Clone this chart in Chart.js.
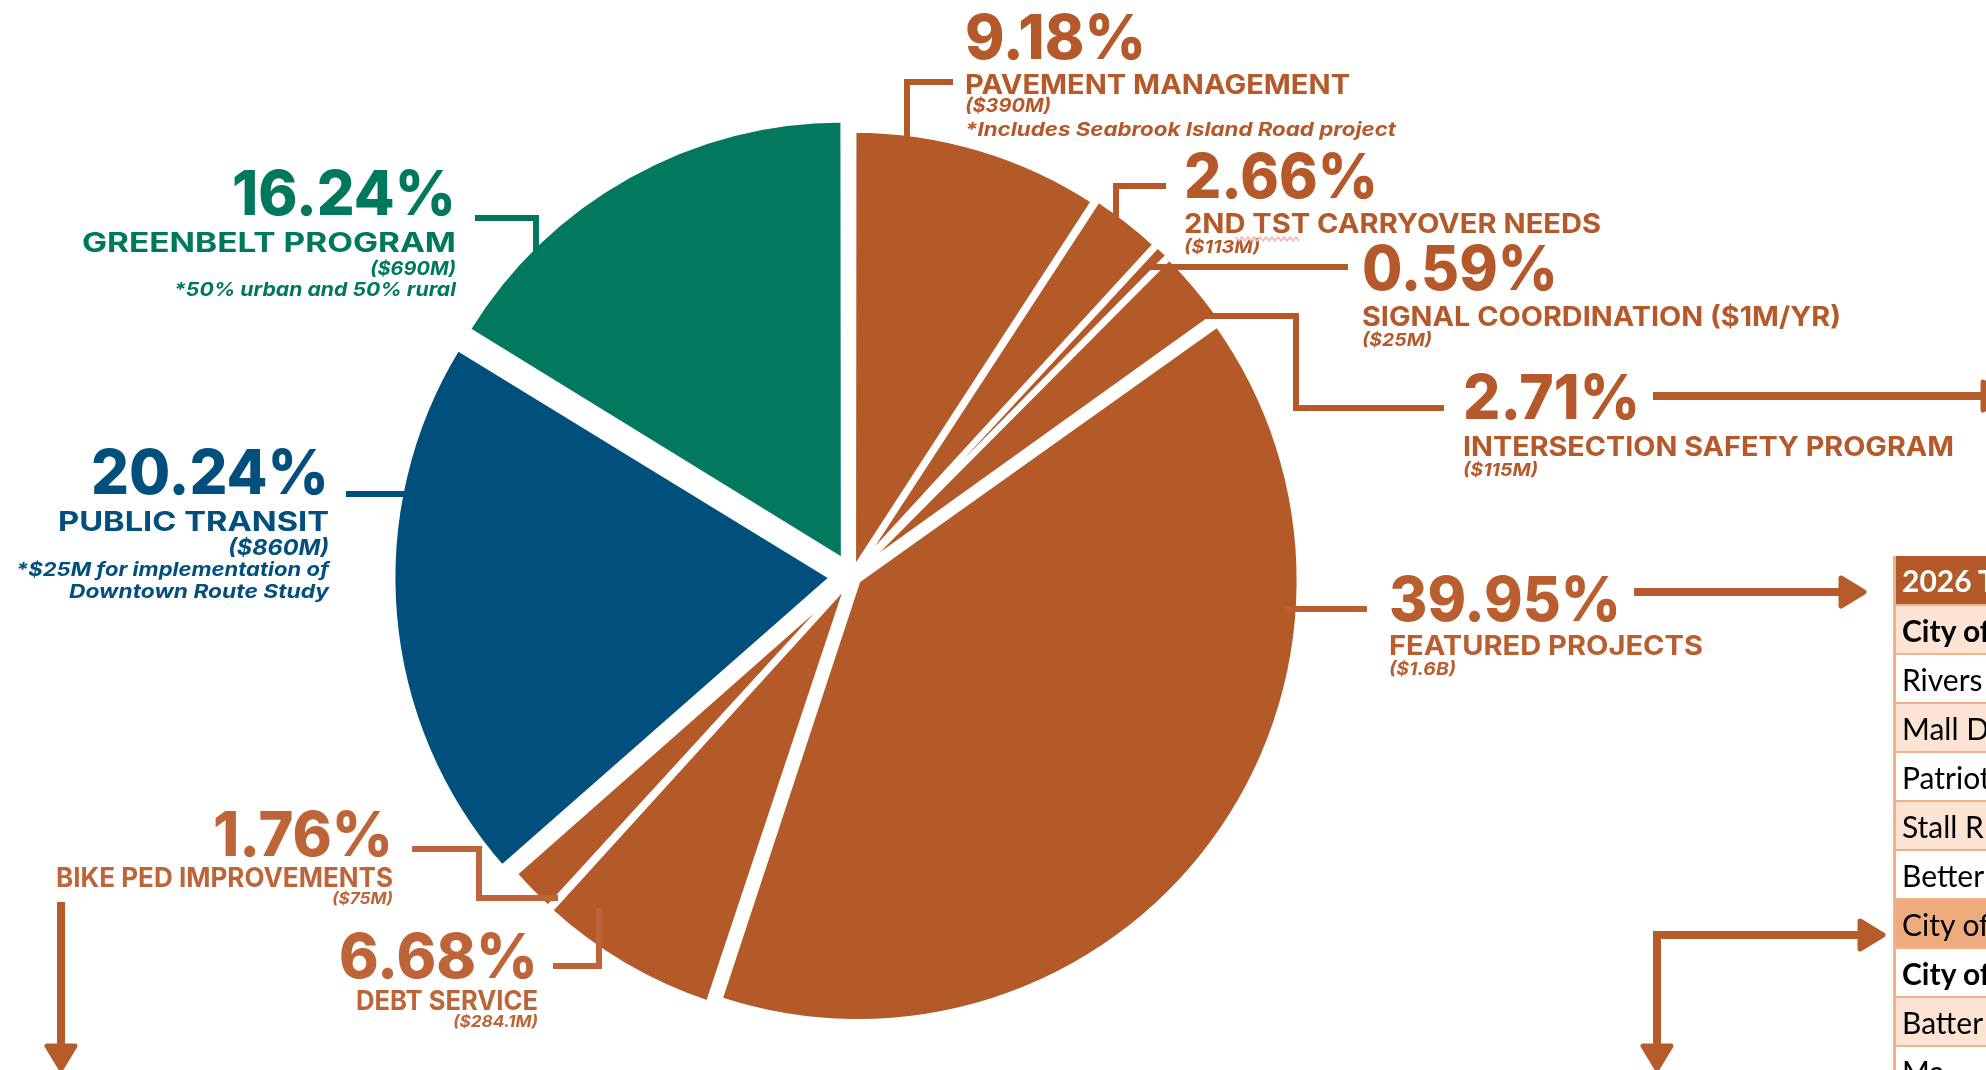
<!DOCTYPE html>
<html>
<head>
<meta charset="utf-8">
<script src="https://cdn.jsdelivr.net/npm/chart.js@4.4.1/dist/chart.umd.min.js"></script>
<style>
    html, body { margin: 0; padding: 0; background: #fff; overflow: hidden; }
    #wrap { position: relative; width: 1986px; height: 1070px; }
    #pie { position: absolute; left: 0; top: 0; }
    #tblwrap { position: absolute; left: 1893px; top: 556px; width: 93px; height: 514px; overflow: hidden; }
    #tbl { border-collapse: collapse; font-family: Lato, "Open Sans", sans-serif; font-size: 30px; width: 300px; }
    #tbl td { height: 47px; padding: 0 0 0 6px; border-left: 3px solid #f2b288; border-bottom: 2px solid #f2b288; white-space: nowrap; color: #000; }
    #tbl tr.head td { background: #b35a28; color: #fff; font-weight: 700; height: 48px; }
    #tbl tr.peach td { background: #fce3d4; }
    #tbl tr.hi td { background: #eeab7e; }
    #tbl tr.bold td { font-weight: 700; }
</style>
</head>
<body>
<div id="wrap">
    <canvas id="pie" width="1986" height="1070"></canvas>
    <div id="tblwrap"><table id="tbl"></table></div>
</div>
<script>
// ---- dados ----
const categorias = ['Pavement Management', '2nd TST Carryover Needs', 'Signal Coordination', 'Intersection Safety Program',
    'Featured Projects', 'Debt Service', 'Bike Ped Improvements', 'Public Transit', 'Greenbelt Program'];
const percentuais = [9.18, 2.66, 0.59, 2.71, 39.95, 6.68, 1.76, 20.24, 16.24];
const titulos = ['PAVEMENT MANAGEMENT', '2ND TST CARRYOVER NEEDS', 'SIGNAL COORDINATION ($1M/YR)', 'INTERSECTION SAFETY PROGRAM',
    'FEATURED PROJECTS', 'DEBT SERVICE', 'BIKE PED IMPROVEMENTS', 'PUBLIC TRANSIT', 'GREENBELT PROGRAM'];
const valores = ['($390M)', '($113M)', '($25M)', '($115M)', '($1.6B)', '($284.1M)', '($75M)', '($860M)', '($690M)'];
const notas = [['*Includes Seabrook Island Road project'], [], [], [], [], [], [],
    ['*$25M for implementation of', 'Downtown Route Study'], ['*50% urban and 50% rural']];
const tabelaCabecalho = '2026 T';
const tabelaLinhas = ['City of', 'Rivers', 'Mall D', 'Patriot', 'Stall R', 'Better', 'City of', 'City of', 'Batter', 'Ma'];

// ---- estilo ----
const LARANJA = '#b35a28', AZUL = '#004f7c', VERDE = '#02785f';
const coresFatias = [LARANJA, LARANJA, LARANJA, LARANJA, LARANJA, LARANJA, LARANJA, AZUL, VERDE];
const coresTexto = ['#b5592a', '#b5592a', '#b5592a', '#b5592a', '#b95e2e', '#bd6538', '#bd6538', '#004f7c', '#00785e'];
const offsets = [22, 25, 25, 25, 30, 32, 25, 81, 71];

// posição de cada rótulo: x, alinhamento, e [baseline, largura] por linha
const layoutRotulos = [
    { x: 965, al: 'left', pct: [59, 181], tit: [94, 385], val: [112, 86, 19], nt: [[136, 431]] },
    { x: 1184, al: 'left', pct: [198, 194], tit: [233, 417], val: [253, 76, 18] },
    { x: 1362, al: 'left', pct: [290, 196], tit: [326, 479], val: [346, 70, 18] },
    { x: 1463, al: 'left', pct: [419, 177], tit: [456, 491], val: [476, 75, 18] },
    { x: 1389, al: 'left', pct: [621, 232], tit: [655, 314], val: [675, 67, 18] },
    { x: 538, al: 'right', pct: [978, 199], tit: [1010, 182], val: [1027, 85, 16] },
    { x: 393, al: 'right', pct: [856, 180], tit: [887, 337], val: [904, 61, 16] },
    { x: 329, al: 'right', pct: [494, 238], tit: [531, 271], val: [555, 101, 22], nt: [[576, 313], [598, 260]] },
    { x: 456, al: 'right', pct: [215, 224], tit: [252, 374], val: [275, 86, 19], nt: [[296, 282]] }
];
const linhasGuia = [
    [[907, 165], [907, 82], [953, 82]],
    [[1116, 255], [1116, 186], [1166, 186]],
    [[1146, 267], [1348, 267]],
    [[1202, 316], [1296, 316], [1296, 408], [1444, 408]],
    [[1284, 609], [1367, 609]],
    [[599, 908], [599, 966], [553, 966]],
    [[558, 898], [479, 898], [479, 849], [412, 849]],
    [[414, 494], [346, 494]],
    [[536, 258], [536, 218], [475, 218]]
];
const setas = [
    { pts: [[1653, 396], [1985, 396]], ponta: 'end', tip: [2006, 396] },
    { pts: [[1634, 592], [1842, 592]], ponta: 'end', tip: [1864, 592] },
    { pts: [[61, 902], [61, 1048]], ponta: 'end', tip: [61, 1069] },
    { pts: [[1657, 1048], [1657, 935], [1860, 935]], ponta: 'both', tip: [1883, 935], tip0: [1657, 1069] }
];

function textoAjustado(ctx, txt, x, y, w, al) {
    const m = ctx.measureText(txt).width;
    let s = w / m;
    s = Math.max(0.8, Math.min(1.35, s));
    const esq = al === 'right' ? x - m * s : x;
    ctx.save();
    ctx.translate(esq, y);
    ctx.scale(s, 1);
    ctx.textAlign = 'left';
    ctx.textBaseline = 'alphabetic';
    ctx.fillText(txt, 0, 0);
    ctx.restore();
}

function cabeca(ctx, de, para, meia) {
    const ang = Math.atan2(para[1] - de[1], para[0] - de[0]);
    const len = 23;
    const bx = para[0] - Math.cos(ang) * len, by = para[1] - Math.sin(ang) * len;
    const px = -Math.sin(ang) * meia, py = Math.cos(ang) * meia;
    ctx.beginPath();
    ctx.moveTo(para[0], para[1]);
    ctx.lineTo(bx + px, by + py);
    ctx.lineTo(bx - px, by - py);
    ctx.closePath();
    ctx.lineJoin = 'round';
    ctx.lineWidth = 5;
    ctx.stroke();
    ctx.fill();
}

const pluginRotulos = {
    id: 'rotulos',
    afterDatasetsDraw(chart) {
        const ctx = chart.ctx;
        ctx.save();
        ctx.lineCap = 'butt';
        // linhas guia
        linhasGuia.forEach((pts, i) => {
            ctx.strokeStyle = coresTexto[i];
            ctx.lineWidth = 6;
            ctx.lineJoin = 'miter';
            ctx.beginPath();
            pts.forEach((p, k) => k ? ctx.lineTo(p[0], p[1]) : ctx.moveTo(p[0], p[1]));
            ctx.stroke();
        });
        // setas
        ctx.strokeStyle = '#b65c2a';
        ctx.fillStyle = '#b65c2a';
        setas.forEach(s => {
            ctx.lineWidth = 8;
            ctx.lineJoin = 'miter';
            ctx.beginPath();
            s.pts.forEach((p, k) => k ? ctx.lineTo(p[0], p[1]) : ctx.moveTo(p[0], p[1]));
            ctx.stroke();
            const n = s.pts.length;
            cabeca(ctx, s.pts[n - 1], s.tip, 14);
            if (s.ponta === 'both') cabeca(ctx, s.pts[0], s.tip0, 14);
        });
        // textos
        layoutRotulos.forEach((L, i) => {
            ctx.fillStyle = coresTexto[i];
            ctx.font = '800 62px Inter, "DejaVu Sans", sans-serif';
            textoAjustado(ctx, percentuais[i].toFixed(2) + '%', L.x, L.pct[0], L.pct[1], L.al);
            ctx.font = '700 27px Inter, "DejaVu Sans", sans-serif';
            textoAjustado(ctx, titulos[i], L.x, L.tit[0], L.tit[1], L.al);
            ctx.font = 'italic 700 ' + L.val[2] + 'px Inter, "DejaVu Sans", sans-serif';
            textoAjustado(ctx, valores[i], L.x, L.val[0], L.val[1], L.al);
            (L.nt || []).forEach((n, k) => {
                ctx.font = 'italic 700 19px Inter, "DejaVu Sans", sans-serif';
                textoAjustado(ctx, notas[i][k], L.x, n[0], n[1], L.al);
            });
        });
        // marca ondulada do corretor sob "TST"
        ctx.strokeStyle = '#f3b3b3';
        ctx.lineWidth = 1.5;
        ctx.beginPath();
        for (let x = 1236; x <= 1300; x += 3) {
            const y = 239 + ((x / 3) % 2 ? 2 : -2);
            x === 1236 ? ctx.moveTo(x, y) : ctx.lineTo(x, y);
        }
        ctx.stroke();
        ctx.restore();
    }
};

new Chart(document.getElementById('pie'), {
    type: 'pie',
    data: {
        labels: categorias,
        datasets: [{
            data: percentuais,
            backgroundColor: coresFatias,
            borderColor: '#ffffff',
            borderWidth: 5,
            offset: offsets
        }]
    },
    options: {
        responsive: false,
        animation: false,
        devicePixelRatio: 1,
        radius: 438,
        layout: { padding: { left: 0, right: 282, top: 82, bottom: 0 } },
        plugins: { legend: { display: false }, tooltip: { enabled: false } }
    },
    plugins: [pluginRotulos]
});

// tabela cortada à direita
const tbl = document.getElementById('tbl');
const trh = document.createElement('tr');
trh.className = 'head';
trh.innerHTML = '<td>' + tabelaCabecalho + '</td>';
tbl.appendChild(trh);
tabelaLinhas.forEach((t, i) => {
    const tr = document.createElement('tr');
    const cls = [];
    if (i === 6) cls.push('hi'); else if ([0, 2, 4, 8].includes(i)) cls.push('peach');
    if (i === 0 || i === 7) cls.push('bold');
    tr.className = cls.join(' ');
    const td = document.createElement('td');
    td.textContent = t;
    tr.appendChild(td);
    tbl.appendChild(tr);
});
</script>
</body>
</html>
